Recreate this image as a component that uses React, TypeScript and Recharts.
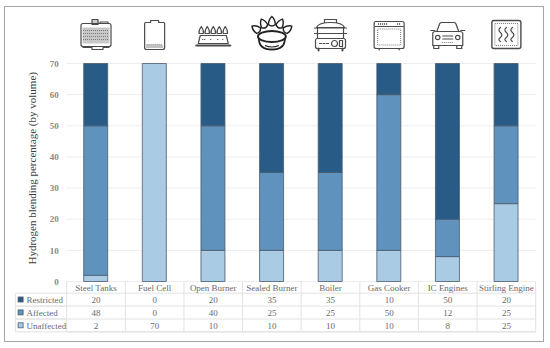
import React from "react";
import { BarChart, Bar, XAxis, YAxis, CartesianGrid } from "recharts";

const categories = ["Steel Tanks", "Fuel Cell", "Open Burner", "Sealed Burner", "Boiler", "Gas Cooker", "IC Engines", "Stirling Engine"];
const restricted = [20, 0, 20, 35, 35, 10, 50, 20];
const affected = [48, 0, 40, 25, 25, 50, 12, 25];
const unaffected = [2, 70, 10, 10, 10, 10, 8, 25];
const yTicks = [0, 10, 20, 30, 40, 50, 60, 70];

const DARK = "#285C87";
const MID = "#5F92BC";
const LIGHT = "#A9CBE4";
const EDGE = "#4A5B6C";
const GRID = "#E2E2E2";
const TXT = "#6a6a6a";
const FONT = "'Liberation Serif', serif";

const rows = [
  { name: "Restricted", color: DARK, values: restricted },
  { name: "Affected", color: MID, values: affected },
  { name: "Unaffected", color: LIGHT, values: unaffected },
];

const data = categories.map((c, i) => ({
  name: c,
  restricted: restricted[i],
  affected: affected[i],
  unaffected: unaffected[i],
}));

const INK = "#4a4a4a";
const line = { fill: "none", stroke: INK, strokeWidth: 1.2, strokeLinejoin: "round" as const, strokeLinecap: "round" as const };
const dots = { fill: "none", stroke: "#777", strokeWidth: 1, strokeDasharray: "1 1" };

const icons: React.ReactNode[] = [
  <g key="tank">
    <rect x={-4} y={-15} width={6} height={5} {...line} fill="#ccc" />
    <rect x={-15} y={-11} width={30} height={23} rx={2} {...line} />
    <rect x={-13.5} y={-7} width={27} height={16} fill="#c8c8c8" />
    <path d="M-13 -4H13M-13 -1H13M-13 2H13M-13 5H13" {...dots} />
    <path d="M-13 13H-4V15H7V13H13" {...line} />
    <path d="M4 -11V-12.5H12V-11" {...line} />
  </g>,
  <g key="cell">
    <path d="M-9 -12H-4V-14H4V-12H9Q10 -12 10 -11V13Q10 15 8 15H-8Q-10 15 -10 13V-11Q-10 -12 -9 -12Z" {...line} />
    <rect x={-8.5} y={10.5} width={17} height={3} fill="#c0c0c0" />
    <path d="M-8 10H8" {...dots} />
  </g>,
  <g key="burner">
    {[-12, -6, 0, 6, 12].map((dx) => (
      <path key={dx} d={`M${dx - 2.2} -1Q${dx - 2.8} -4 ${dx} -8Q${dx + 2.8} -4 ${dx + 2.2} -1Z`} {...line} />
    ))}
    <path d="M-13 1H13L15 9H-15Z" {...line} />
    <path d="M-11 5H-7M-3 5H-1M4 5H6M9 5H11" {...dots} stroke="#333" />
    <path d="M-17 11H17" {...line} strokeWidth={2} />
  </g>,
  <g key="sealed" stroke="#111">
    {[[-15, -5, -55], [-8, -10, -25], [0, -12, 0], [8, -10, 25], [15, -5, 55]].map(([dx, dy, r]) => (
      <path key={r} transform={`translate(${dx} ${dy}) rotate(${r})`} d="M-3.4 2Q-3.4 -3 0 -6Q3.4 -3 3.4 2Q0 5 -3.4 2Z" fill="#fff" stroke="#222" strokeWidth={1.4} />
    ))}
    <ellipse cx={0} cy={2} rx={14} ry={5.5} fill="#fff" stroke="#222" strokeWidth={1.8} />
    <path d="M-13 4Q-13 15 0 15Q13 15 13 4" fill="none" stroke="#222" strokeWidth={1.8} />
    <path d="M-7 11Q0 14 7 11" fill="none" stroke="#222" strokeWidth={1.2} />
  </g>,
  <g key="boiler">
    <path d="M-6 -12V-15H6V-12" {...line} />
    <path d="M-14 -7Q-12 -12 0 -12Q12 -12 14 -7Z" {...line} />
    <path d="M-16 -6.5H16M-13 -6V-1H13V-6M-16 -1H16M-13 -1V4H13V-1" {...line} />
    <rect x={-15} y={4} width={30} height={10} rx={2} {...line} />
    <path d="M-11 9H-2" {...line} strokeDasharray="2 1.5" />
    <circle cx={4} cy={9} r={3} {...line} />
    <rect x={9} y={6} width={3} height={6} {...line} />
    <path d="M-12 14V16M12 14V16" {...line} strokeWidth={2} />
  </g>,
  <g key="oven">
    <rect x={-15} y={-13} width={30} height={27} rx={2} {...line} />
    <path d="M-14 -8H14" {...line} />
    <path d="M-11 -10.5H-1M8 -10.5H11" {...dots} stroke="#333" strokeWidth={1.4} />
    <rect x={-11.5} y={-5.5} width={23} height={16} {...dots} />
    <path d="M-10 14V15.5M10 14V15.5" {...line} />
  </g>,
  <g key="car">
    <path d="M-11 -3L-8 -11Q-7.5 -12 -6 -12H6Q7.5 -12 8 -11L11 -3" {...line} />
    <path d="M-15 -1Q-15 -3 -12 -3H12Q15 -3 15 -1V11H-15Z" {...line} />
    <path d="M-17 -4H-13M13 -4H17" {...line} />
    <circle cx={-10} cy={3} r={2.2} {...line} />
    <circle cx={10} cy={3} r={2.2} {...line} />
    <path d="M-5 1.5H5M-5 4.5H5" {...line} />
    <path d="M-6 8H6" {...dots} />
    <path d="M-14 11V14H-9V11M14 11V14H9V11" {...line} />
  </g>,
  <g key="stirling">
    <rect x={-14.5} y={-14} width={29} height={28} rx={2} {...line} strokeWidth={1.4} />
    <rect x={-11.5} y={-11} width={23} height={22} {...dots} />
    {[-6, 0, 6].map((dx) => (
      <path key={dx} d={`M${dx} -7Q${dx - 3} -4.5 ${dx} -2Q${dx + 3} 0.5 ${dx} 3Q${dx - 3} 5 ${dx} 7`} {...line} />
    ))}
  </g>,
];

const ROW_H = 12.9;
const HEAD_H = 11.7;
const TABLE_LEFT = 51.3;

function ColumnTick(props: any) {
  const { x, y, index, payload, width } = props;
  const band = (width || 469) / categories.length;
  const left = x - band / 2;
  const right = x + band / 2;
  const rowTop = (r: number) => y + HEAD_H + r * ROW_H;
  const bottom = rowTop(3);
  const textStyle = { fontFamily: FONT, fontSize: 9, fill: TXT };
  return (
    <g>
      <g transform={`translate(${x} ${y - 247})`}>{icons[index]}</g>
      <line x1={right} x2={right} y1={y} y2={bottom} stroke={GRID} />
      <line x1={left} x2={right} y1={bottom} y2={bottom} stroke={GRID} />
      <line x1={left} x2={right} y1={y + HEAD_H} y2={y + HEAD_H} stroke={GRID} />
      <text x={x} y={y + 9.6} textAnchor="middle" {...textStyle}>{payload.value}</text>
      {rows.map((r, i) => (
        <g key={r.name}>
          <line x1={left} x2={right} y1={rowTop(i + 1)} y2={rowTop(i + 1)} stroke={GRID} />
          <text x={x} y={rowTop(i) + 10} textAnchor="middle" {...textStyle}>{r.values[index]}</text>
        </g>
      ))}
      {index === 0 && (
        <g>
          <line x1={left} x2={left} y1={y} y2={bottom} stroke={GRID} />
          <line x1={left - TABLE_LEFT} x2={left - TABLE_LEFT} y1={y + HEAD_H} y2={bottom} stroke={GRID} />
          {rows.map((r, i) => (
            <g key={r.name}>
              <line x1={left - TABLE_LEFT} x2={left} y1={rowTop(i + 1)} y2={rowTop(i + 1)} stroke={GRID} />
              <line x1={left - TABLE_LEFT} x2={left} y1={rowTop(i)} y2={rowTop(i)} stroke={GRID} />
              <rect x={left - TABLE_LEFT + 2.7} y={rowTop(i) + 3.8} width={5} height={5} fill={r.color} stroke={EDGE} strokeWidth={0.8} />
              <text x={left - TABLE_LEFT + 11} y={rowTop(i) + 9.8} {...textStyle}>{r.name}</text>
            </g>
          ))}
        </g>
      )}
    </g>
  );
}

export default function App() {
  return (
    <div style={{ position: "absolute", left: 0, top: 0, width: 550, height: 348, background: "#fff" }}>
      <div style={{ position: "absolute", left: 4, top: 6, width: 538, height: 334, border: "1.5px solid #A6A6A6" }} />
      <div style={{ position: "absolute", left: 0, top: 0 }}>
        <BarChart width={550} height={348} data={data} margin={{ top: 63.5, right: 14.3, bottom: 0, left: 24 }} barCategoryGap={0}>
          <CartesianGrid horizontal vertical={false} stroke="#EDEDED" />
          <XAxis dataKey="name" interval={0} height={66.5} axisLine={false} tickLine={false} tickMargin={0} tickSize={0} tick={<ColumnTick />} />
          <YAxis
            domain={[0, 70]}
            ticks={yTicks}
            width={42.7}
            axisLine={false}
            tickLine={false}
            tickMargin={3}
            tickSize={5}
            tick={{ fontFamily: FONT, fontSize: 9, fill: "#8a8a8a", fontWeight: 700 }}
            label={{
              value: "Hydrogen blending percentage (by volume)",
              angle: -90,
              position: "insideLeft",
              dx: 3,
              dy: 92,
              style: { fontFamily: FONT, fontSize: 11, fill: "#3c3c3c" },
            }}
          />
          <Bar dataKey="unaffected" stackId="a" fill={LIGHT} stroke={EDGE} strokeWidth={0.8} barSize={24} isAnimationActive={false} />
          <Bar dataKey="affected" stackId="a" fill={MID} stroke={EDGE} strokeWidth={0.8} barSize={24} isAnimationActive={false} />
          <Bar dataKey="restricted" stackId="a" fill={DARK} stroke={EDGE} strokeWidth={0.8} barSize={24} isAnimationActive={false} />
        </BarChart>
      </div>
    </div>
  );
}
